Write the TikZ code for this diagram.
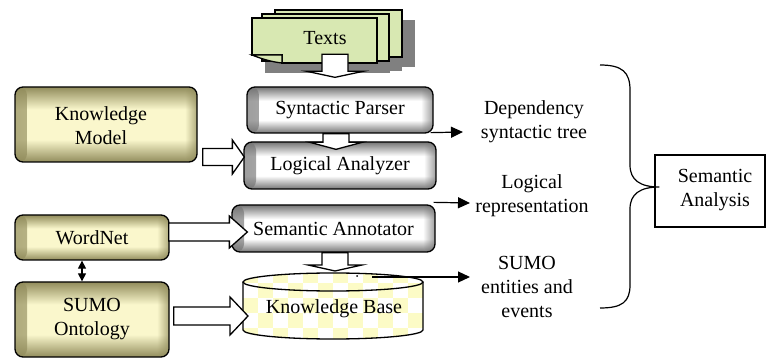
\documentclass[tikz,border=0pt]{standalone}
\usepackage{fontspec}
\setmainfont{Liberation Serif}
\usetikzlibrary{arrows.meta,calc,fadings}

\definecolor{docfill}{RGB}{216,232,178}
\definecolor{docshadow}{RGB}{128,128,128}
\definecolor{checkfill}{RGB}{252,251,198}
\definecolor{grayedge}{rgb}{0.46,0.46,0.46}
\definecolor{oliveedge}{rgb}{0.57,0.55,0.36}

% inner-glow shadings for the process boxes (gray) and the resource boxes (olive)
\pgfdeclareverticalshading{grayv}{100bp}{rgb(0bp)=(0.46,0.46,0.46); rgb(25bp)=(0.46,0.46,0.46); rgb(39bp)=(1,1,1); rgb(60bp)=(1,1,1); rgb(75bp)=(0.46,0.46,0.46); rgb(100bp)=(0.46,0.46,0.46)}
\pgfdeclareverticalshading{olivev}{100bp}{rgb(0bp)=(0.57,0.55,0.36); rgb(25bp)=(0.57,0.55,0.36); rgb(40bp)=(0.98,0.97,0.80); rgb(60bp)=(0.98,0.97,0.80); rgb(75bp)=(0.57,0.55,0.36); rgb(100bp)=(0.57,0.55,0.36)}

\tikzset{
  txt/.style={font=\fontsize{20}{24}\selectfont, align=center, inner sep=0pt},
  sideglow/.style={path picture={
    \fill[#1, fill opacity=0.7, path fading=east] (path picture bounding box.south west)
      rectangle ($(path picture bounding box.north west)+(12,0)$);
    \fill[#1, fill opacity=0.7, path fading=west] (path picture bounding box.south east)
      rectangle ($(path picture bounding box.north east)+(-12,0)$);}},
  procbox/.style={txt, draw, line width=1.3pt, rounded corners=8pt, shading=grayv, sideglow=grayedge},
  srcbox/.style={txt, draw, line width=1.3pt, rounded corners=8pt, shading=olivev, sideglow=oliveedge},
  doc/.style={fill=docfill, draw, line width=1.3pt, line join=miter},
  hollow/.style={draw, fill=white, line width=1.3pt, line join=miter},
  outarrow/.style={line width=1.2pt, -{Triangle[length=12pt,width=11pt]}},
  linkarrow/.style={line width=1.2pt, {Triangle[length=8pt,width=8pt]}-{Triangle[length=8pt,width=8pt]}}
}

% block arrow pointing down: #1 start, #2 tip, #3 half shaft, #4 half head, #5 head length
\newcommand\hollowdn[5]{\draw[hollow] ($(#1)+(-#3,0)$) -- ($(#1)+(#3,0)$) -- ($(#2)+(#3,-#5)$) -- ($(#2)+(#4,-#5)$) -- (#2) -- ($(#2)+(-#4,-#5)$) -- ($(#2)+(-#3,-#5)$) -- cycle;}
% block arrow pointing right
\newcommand\hollowrt[5]{\draw[hollow] ($(#1)+(0,-#3)$) -- ($(#2)+(-#5,-#3)$) -- ($(#2)+(-#5,-#4)$) -- (#2) -- ($(#2)+(-#5,#4)$) -- ($(#2)+(-#5,#3)$) -- ($(#1)+(0,#3)$) -- cycle;}

\begin{document}
\begin{tikzpicture}[x=1pt,y=-1pt]
\useasboundingbox (0,0) rectangle (766,358);

% ---- stack of input documents ----
\fill[docshadow] (288,20) rectangle (415,67);
\fill[docshadow] (275,24) rectangle (402,71);
\fill[docshadow] (265,28) rectangle (390,73);
\filldraw[doc] (275,10) rectangle (402,57);
\filldraw[doc] (262,14) rectangle (389,61);
\filldraw[doc] (252,18) -- (377,18) -- (377,63) -- (282,63) -- (282,55) -- (252,55) -- cycle;
\filldraw[doc] (252,55) -- (282,55) -- (282,63) .. controls (272,62) and (262,59) .. (252,55) -- cycle;
\node[txt] (texts) at (325,38) {Texts};

% ---- processing chain ----
\node[procbox, minimum width=186pt, minimum height=46pt] (sp) at (340,110) {Syntactic Parser};
\node[procbox, minimum width=192pt, minimum height=47pt] (la) at (340,165.5) {Logical Analyzer};
\node[procbox, minimum width=203pt, minimum height=47pt] (sa) at (333.5,228.5) {Semantic Annotator};

% ---- resources ----
\node[srcbox, minimum width=182pt, minimum height=75pt] (km) at (106,124.5) {};
\node[txt] (kmtext) at (101,125.5) {Knowledge\\Model};
\node[srcbox, minimum width=154pt, minimum height=45pt] (wn) at (92,237.5) {WordNet};
\node[srcbox, minimum width=154pt, minimum height=75pt] (sumo) at (92,319.5) {SUMO\\Ontology};

% ---- knowledge base cylinder with checkered fill ----
\begin{scope}
  \clip (243,282) -- (243,330) arc[start angle=180, end angle=0, x radius=90, y radius=9]
        -- (423,282) arc[start angle=0, end angle=-180, x radius=90, y radius=9] -- cycle;
  \fill[white] (240,268) rectangle (430,345);
  \foreach \i in {0,...,12} {
    \foreach \j in {0,...,5} {
      \pgfmathtruncatemacro\cellparity{mod(\i+\j,2)}
      \ifnum\cellparity=0
        \fill[checkfill] ({243+15*\i},{268+15*\j}) rectangle ++(15,15);
      \fi
    }
  }
\end{scope}
\draw[line width=1.3pt] (333,282) ellipse [x radius=90, y radius=9];
\draw[line width=1.3pt] (243,282) -- (243,330) arc[start angle=180, end angle=0, x radius=90, y radius=9] -- (423,282);
\coordinate (kbside) at (243,316);
\node[txt] (kb) at (334,309) {Knowledge Base};

% ---- block arrows ----
\coordinate (a1s) at ($(sp.north)+(-5,-32)$);
\coordinate (a1t) at ($(sp.north)+(-5,-9)$);
\hollowdn{a1s}{a1t}{13}{28}{6}
\coordinate (a2s) at ($(sp.south)+(-4,0)$);
\coordinate (a2t) at ($(la.north)+(-4,8)$);
\hollowdn{a2s}{a2t}{13}{26}{7}
\coordinate (a3s) at ($(sa.south)+(1.5,0)$);
\coordinate (a3t) at ($(kb.center)+(1,-38)$);
\hollowdn{a3s}{a3t}{13}{27}{6}
\coordinate (a4s) at ($(km.east)+(5,32.5)$);
\coordinate (a4t) at ($(la.west)+(1,-8.5)$);
\hollowrt{a4s}{a4t}{8.5}{17}{12}
\coordinate (a5s) at ($(wn.east)+(-1,-5.5)$);
\coordinate (a5t) at ($(sa.west)+(16,3.5)$);
\hollowrt{a5s}{a5t}{9}{16}{18}
\coordinate (a6s) at ($(sumo.east)+(4,-3.5)$);
\coordinate (a6t) at ($(kbside)+(5,0)$);
\hollowrt{a6s}{a6t}{9}{19}{18}

% WordNet <-> SUMO
\draw[linkarrow] ($(wn.south)+(-10,0)$) -- ($(sumo.north)+(-10,0)$);

% ---- outputs ----
\node[txt] (dep) at (534,122) {Dependency\\syntactic tree};
\node[txt] (logrep) at (532,196) {Logical\\representation};
\node[txt] (sumoev) at (527,287) {SUMO\\entities and\\events};

\coordinate (o1) at (463,132);
\coordinate (o2) at (470,203);
\coordinate (o3) at (470,277);
\coordinate (kbtop) at (372,277);
\draw[outarrow] ($(sp.south east)+(-3,-1)$) -- (o1);
\draw[outarrow] ($(sa.north east)+(-2,-2)$) -- (o2);
\draw[outarrow] (kbtop) -- (o3);
\fill (357,276) circle (1);

% ---- result ----
\node[draw, line width=1.2pt, minimum width=110pt, minimum height=72pt] (sem) at (710,191) {};
\node[txt] (semtext) at (715,190) {Semantic\\Analysis};
\coordinate (btip) at ($(sem.west)+(5,-4)$);
\draw[line width=1.2pt] (600,65) .. controls (622,65) and (630,72) .. (630,90) -- (630,165)
  .. controls (630,180) and (640,187) .. (btip)
  .. controls (640,187) and (630,194) .. (630,209) -- (630,285)
  .. controls (630,302) and (622,308) .. (600,308);
\end{tikzpicture}
\end{document}
